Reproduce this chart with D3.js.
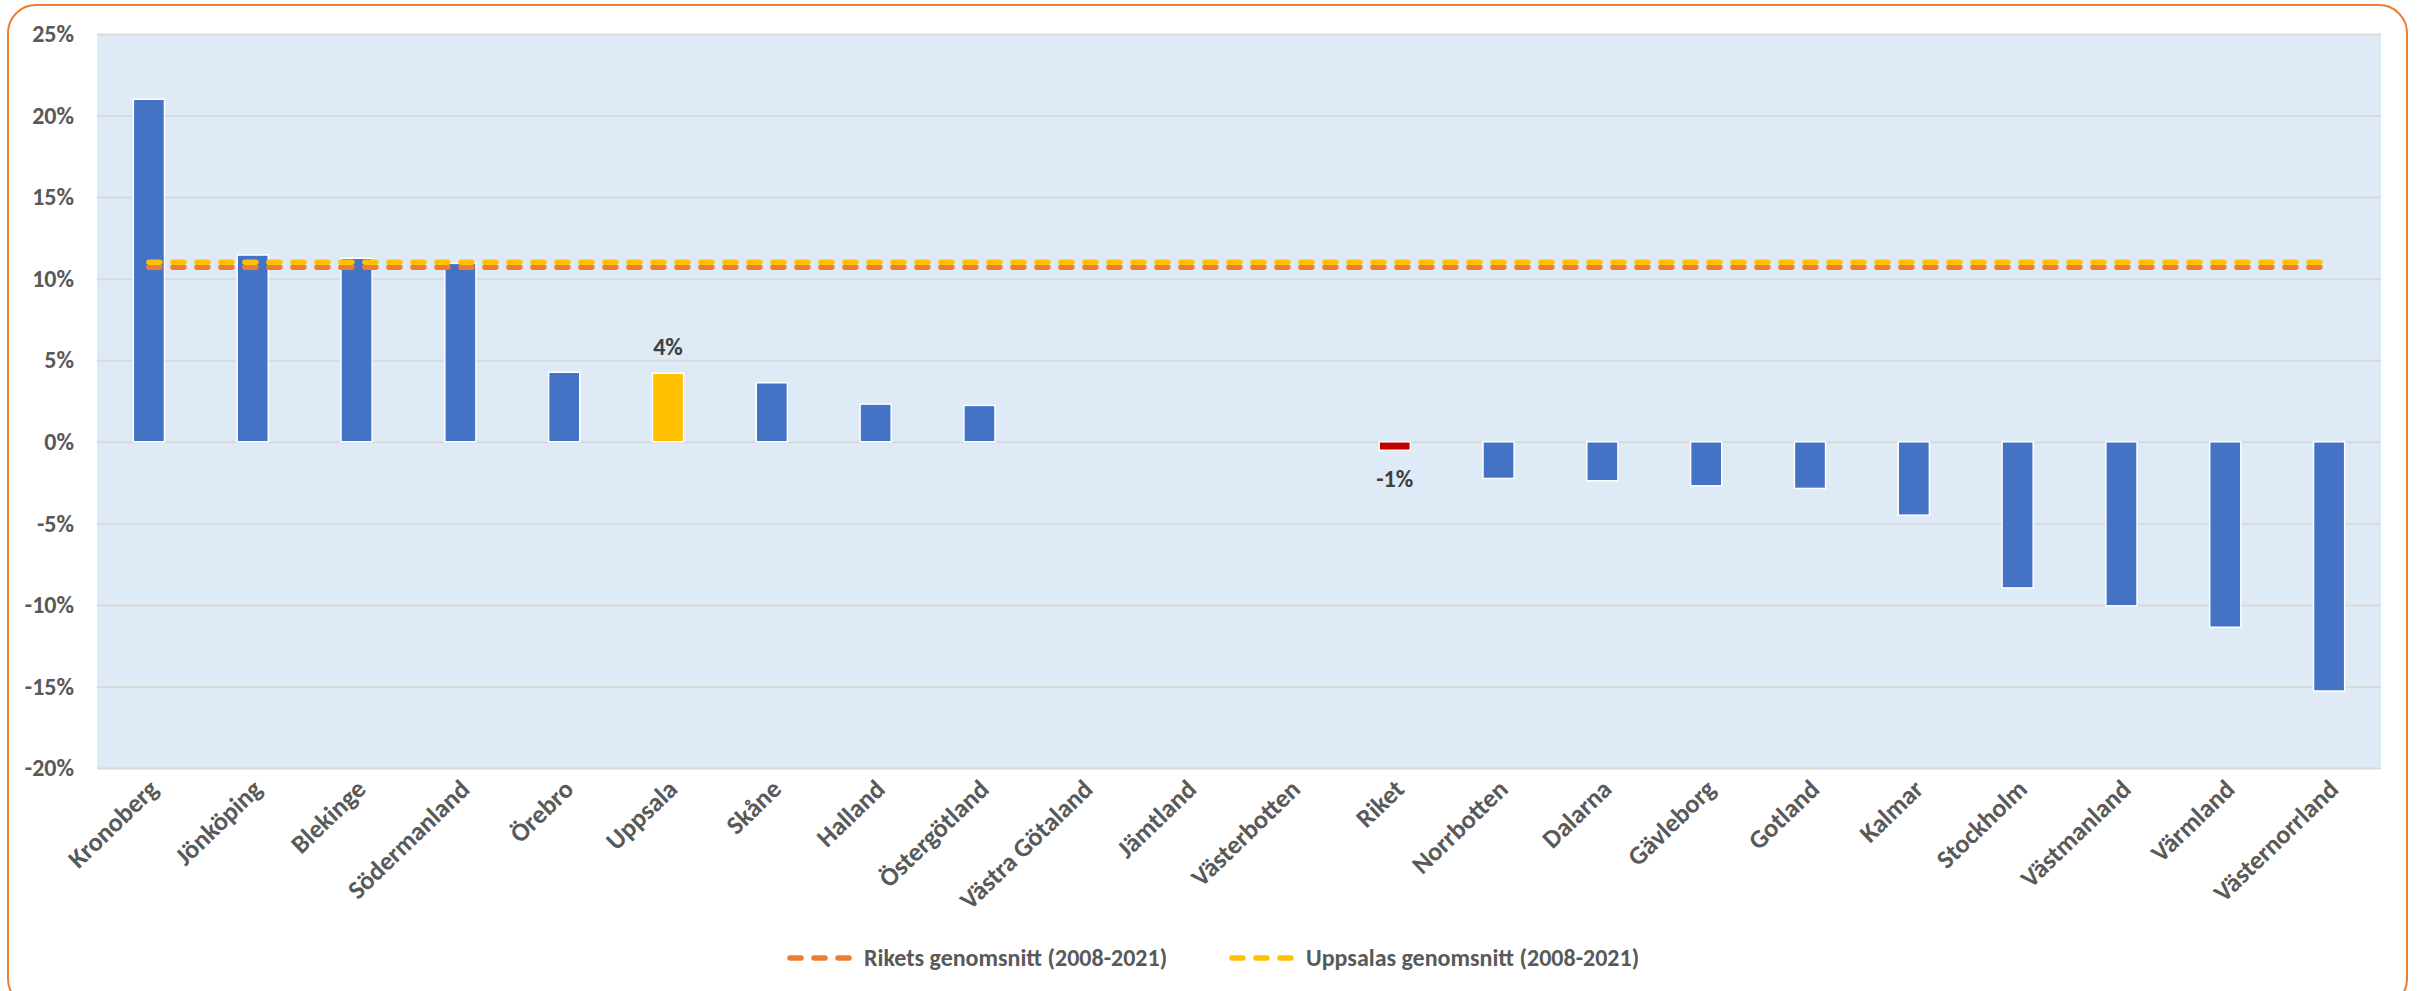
<!DOCTYPE html>
<html>
<head>
<meta charset="utf-8">
<script src="https://cdn.jsdelivr.net/npm/d3@7"></script>
<style>
    html, body { margin: 0; padding: 0; background: #fff; }
    svg text { font-family: Carlito, Lato, "Open Sans", sans-serif; font-weight: bold; }
</style>
</head>
<body>
<div id="myPlot"></div>
<script>
const categories = ["Kronoberg", "Jönköping", "Blekinge", "Södermanland", "Örebro", "Uppsala",
    "Skåne", "Halland", "Östergötland", "Västra Götaland", "Jämtland", "Västerbotten", "Riket",
    "Norrbotten", "Dalarna", "Gävleborg", "Gotland", "Kalmar", "Stockholm", "Västmanland",
    "Värmland", "Västernorrland"]
const values = [0.210, 0.1145, 0.1125, 0.1094, 0.0426, 0.042, 0.0362, 0.0231, 0.0223, 0, 0, 0,
    -0.0052, -0.0225, -0.0239, -0.027, -0.0286, -0.045, -0.0896, -0.1006, -0.1137, -0.1528]
const rikesAvg = 0.107
const uppsalaAvg = 0.110
const yTicks = [-0.20, -0.15, -0.10, -0.05, 0, 0.05, 0.10, 0.15, 0.20, 0.25]
const labelled = ["Uppsala", "Riket"]
const legendItems = ["Rikets genomsnitt (2008-2021)", "Uppsalas genomsnitt (2008-2021)"]

const W = 2417, H = 991
const margin = {top: 34, right: 36, bottom: 223, left: 97}
const width = W - margin.left - margin.right
const height = H - margin.top - margin.bottom

const barColor = d => d === "Uppsala" ? "#FFC000" : d === "Riket" ? "#C00000" : "#4472C4"
// excel style percent, plain hyphen for minus
const pct = d => d3.format(".0%")(d).replace("\u2212", "-")

const svg = d3.select("#myPlot").append("svg")
    .attr("width", W)
    .attr("height", H)

// chart border
svg.append("rect")
    .attr("x", 8).attr("y", 5)
    .attr("width", 2399).attr("height", 1002)
    .attr("rx", 28)
    .attr("fill", "#fff")
    .attr("stroke", "#ED7D31")
    .attr("stroke-width", 2)

const g = svg.append("g")
    .attr("transform", `translate(${margin.left}, ${margin.top})`)

const xScale = d3.scaleBand()
    .domain(categories)
    .range([0, width])

const yScale = d3.scaleLinear()
    .domain([-0.20, 0.25])
    .range([height, 0])

g.append("rect")
    .attr("width", width)
    .attr("height", height)
    .attr("fill", "#DEEAF6")

const yAxis = d3.axisLeft(yScale)
    .tickValues(yTicks)
    .tickFormat(pct)
    .tickSize(-width)
    .tickPadding(23)

const yAxisG = g.append("g")
    .attr("class", "y axis")
    .call(yAxis)
yAxisG.select(".domain").remove()
yAxisG.selectAll(".tick line")
    .attr("stroke", "#D9D9D9")
    .attr("stroke-width", 2)
yAxisG.selectAll(".tick text")
    .attr("fill", "#595959")
    .attr("font-size", 24)

const bw = xScale.bandwidth() * 0.3

g.append("g").selectAll("rect")
    .data(categories.map((c, i) => ({c, v: values[i]})).filter(d => d.v !== 0))
    .enter().append("rect")
    .attr("x", d => xScale(d.c) + (xScale.bandwidth() - bw) / 2)
    .attr("y", d => yScale(Math.max(0, d.v)))
    .attr("width", bw)
    .attr("height", d => Math.abs(yScale(d.v) - yScale(0)))
    .attr("fill", d => barColor(d.c))
    .attr("stroke", "#fff")
    .attr("stroke-width", 1.5)

// average lines
const x0 = xScale(categories[0]) + xScale.bandwidth() / 2
const x1 = xScale(categories[categories.length - 1]) + xScale.bandwidth() / 2
const avgLines = [{v: rikesAvg, color: "#ED7D31"}, {v: uppsalaAvg, color: "#FFC000"}]

g.append("g").selectAll("line")
    .data(avgLines)
    .enter().append("line")
    .attr("x1", x0).attr("x2", x1)
    .attr("y1", d => yScale(d.v)).attr("y2", d => yScale(d.v))
    .attr("stroke", d => d.color)
    .attr("stroke-width", 5.5)
    .attr("stroke-dasharray", "11,13")
    .attr("stroke-linecap", "round")

// data labels
g.append("g").selectAll("text")
    .data(categories.map((c, i) => ({c, v: values[i]})).filter(d => labelled.includes(d.c)))
    .enter().append("text")
    .attr("x", d => xScale(d.c) + xScale.bandwidth() / 2)
    .attr("y", d => d.v >= 0 ? yScale(d.v) - 18 : yScale(d.v) + 37)
    .attr("text-anchor", "middle")
    .attr("fill", "#404040")
    .attr("font-size", 24)
    .text(d => pct(d.v))

// category labels
g.append("g").selectAll("text")
    .data(categories)
    .enter().append("text")
    .attr("transform", d => `translate(${xScale(d) + xScale.bandwidth() / 2 + 11}, ${height + 23}) rotate(-44)`)
    .attr("text-anchor", "end")
    .attr("fill", "#595959")
    .attr("font-size", 26)
    .text(d => d)

// legend
const legendX = [787, 1229]
const legend = svg.append("g").selectAll("g")
    .data(legendItems)
    .enter().append("g")
    .attr("transform", (d, i) => `translate(${legendX[i]}, 958)`)

legend.append("line")
    .attr("x1", 3).attr("x2", 64)
    .attr("stroke", (d, i) => avgLines[i].color)
    .attr("stroke-width", 5.5)
    .attr("stroke-dasharray", "11,13")
    .attr("stroke-linecap", "round")

legend.append("text")
    .attr("x", 77)
    .attr("dy", "0.35em")
    .attr("fill", "#595959")
    .attr("font-size", 24)
    .text(d => d)
</script>
</body>
</html>
